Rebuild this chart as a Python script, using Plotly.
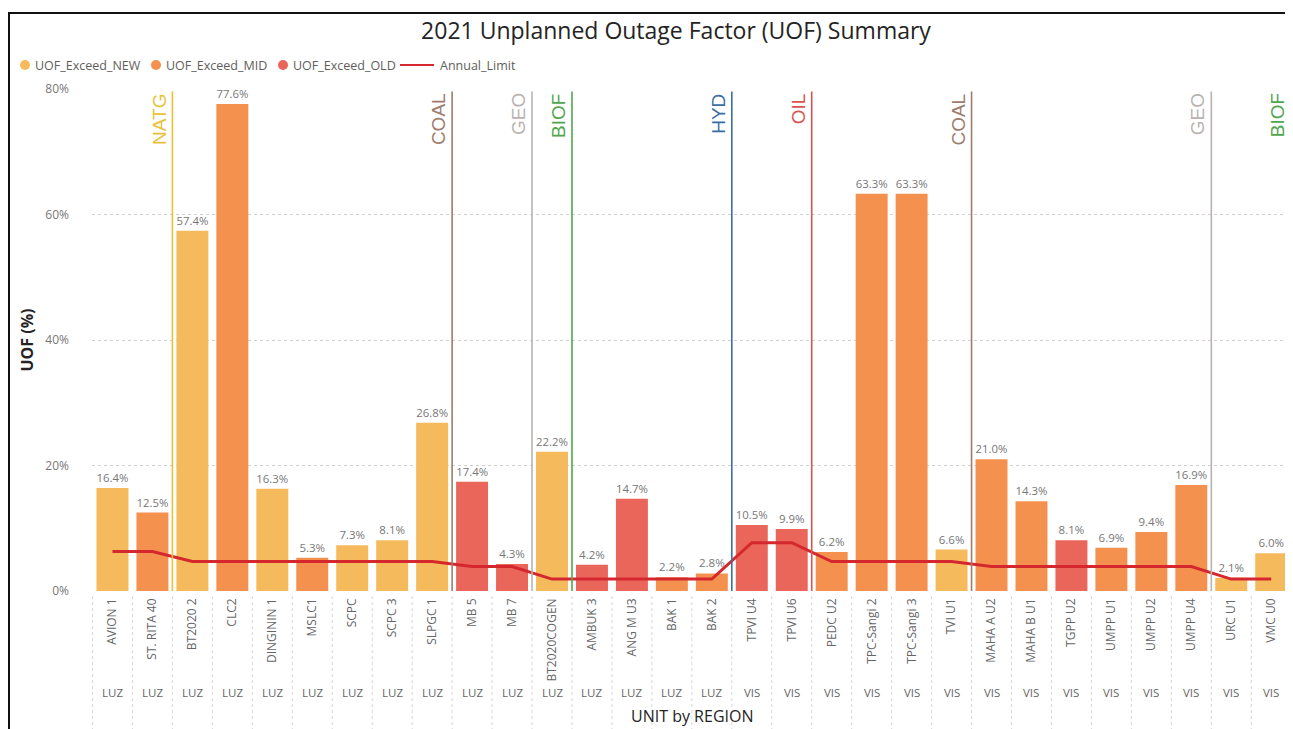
import plotly.graph_objects as go

units = ["AVION 1", "ST. RITA 40", "BT2020 2", "CLC2", "DINGININ 1", "MSLC1", "SCPC", "SCPC 3",
         "SLPGC 1", "MB 5", "MB 7", "BT2020COGEN", "AMBUK 3", "ANG M U3", "BAK 1", "BAK 2",
         "TPVI U4", "TPVI U6", "PEDC U2", "TPC-Sangi 2", "TPC-Sangi 3", "TVI U1", "MAHA A U2",
         "MAHA B U1", "TGPP U2", "UMPP U1", "UMPP U2", "UMPP U4", "URC U1", "VMC U0"]
regions = ["LUZ"] * 16 + ["VIS"] * 14
fuels = ["NATG", "NATG", "COAL", "COAL", "COAL", "COAL", "COAL", "COAL", "COAL", "GEO", "GEO",
         "BIOF", "HYD", "HYD", "HYD", "HYD", "OIL", "OIL", "COAL", "COAL", "COAL", "COAL",
         "GEO", "GEO", "GEO", "GEO", "GEO", "GEO", "BIOF", "BIOF"]
vintage = ["NEW", "MID", "NEW", "MID", "NEW", "MID", "NEW", "NEW", "NEW", "OLD", "OLD", "NEW",
           "OLD", "OLD", "MID", "MID", "OLD", "OLD", "MID", "MID", "MID", "NEW", "MID", "MID",
           "OLD", "MID", "MID", "MID", "NEW", "NEW"]
uof = [16.4, 12.5, 57.4, 77.6, 16.3, 5.3, 7.3, 8.1, 26.8, 17.4, 4.3, 22.2, 4.2, 14.7, 2.2, 2.8,
       10.5, 9.9, 6.2, 63.3, 63.3, 6.6, 21.0, 14.3, 8.1, 6.9, 9.4, 16.9, 2.1, 6.0]
annual_limit = [6.3, 6.3, 4.7, 4.7, 4.7, 4.7, 4.7, 4.7, 4.7, 3.9, 3.9, 1.9, 1.9, 1.9, 1.9, 1.9,
                7.7, 7.7, 4.7, 4.7, 4.7, 4.7, 3.9, 3.9, 3.9, 3.9, 3.9, 3.9, 1.9, 1.9]
y_ticks = [0, 20, 40, 60, 80]
series_keys = ["NEW", "MID", "OLD"]

series_colors = {"NEW": "#F5BA5B", "MID": "#F5914F", "OLD": "#EA655A"}
line_color = "#D5282E"
fuel_colors = {"NATG": "#E8C23A", "COAL": "#9E7B6A", "GEO": "#B8B3B0", "BIOF": "#4FA64C",
               "HYD": "#3B6EA5", "OIL": "#D9534F"}
FONT = "Open Sans"

# page-to-paper helpers (plot area: left 92, right 1292, top 89, bottom 591 in page px)
PL, PW, PB, PH = 92, 1200, 591, 502
def px(x):
    return (x - PL) / PW
def py(y):
    return (PB - y) / PH

fig = go.Figure()

for key in series_keys:
    vals = [v if s == key else None for v, s in zip(uof, vintage)]
    fig.add_trace(go.Bar(
        x=units, y=vals, name="UOF_Exceed_" + key, showlegend=False,
        marker=dict(color=series_colors[key], line=dict(width=0)),
        texttemplate="%{y:.1f}%", textposition="outside",
        textfont=dict(family=FONT, size=11.5, color="#777777"), cliponaxis=False,
    ))

fig.add_trace(go.Scatter(
    x=units, y=annual_limit, mode="lines", name="Annual_Limit", showlegend=False,
    line=dict(color=line_color, width=3),
))

shapes = []
annotations = []
# fuel group boundaries
for i in range(len(units)):
    if i == len(units) - 1 or fuels[i + 1] != fuels[i]:
        col = fuel_colors[fuels[i]]
        shapes.append(dict(type="line", xref="x", yref="paper", x0=i + 0.5, x1=i + 0.5,
                           y0=0, y1=0.995, line=dict(color=col, width=1.6), layer="above"))
        annotations.append(dict(xref="x", yref="paper", x=i + 0.5, y=0.995, text=fuels[i],
                                textangle=-90, showarrow=False, xanchor="right", yanchor="top",
                                xshift=-1, font=dict(family="Liberation Sans", size=19, color=col)))
# dotted separators in category label area
for i in range(len(units) + 1):
    shapes.append(dict(type="line", xref="x", yref="paper", x0=i - 0.5, x1=i - 0.5,
                       y0=-0.01, y1=-0.3, line=dict(color="#D6D6D6", width=1, dash="dot")))
# region labels
for u, r in zip(units, regions):
    annotations.append(dict(xref="x", yref="paper", x=u, y=py(692), text=r, showarrow=False,
                            xanchor="center", yanchor="middle",
                            font=dict(family=FONT, size=11.5, color="#666666")))
annotations.append(dict(xref="paper", yref="paper", x=0.5, y=py(716), text="UNIT by REGION",
                        showarrow=False, xanchor="center", yanchor="middle",
                        font=dict(family=FONT, size=16, color="#252423")))

# legend (drawn manually, compact like the reference)
legend_items = [("UOF_Exceed_" + k, series_colors[k], "dot") for k in series_keys]
legend_items.append(("Annual_Limit", line_color, "line"))
legend_pos = [(25, 33), (156, 164), (283, 291), (417, 438)]
LY = 65
for (name, col, kind), (mx, tx) in zip(legend_items, legend_pos):
    if kind == "dot":
        shapes.append(dict(type="circle", xref="paper", yref="paper", xsizemode="pixel",
                           ysizemode="pixel", xanchor=px(mx), yanchor=py(LY),
                           x0=-5, x1=5, y0=-5, y1=5, fillcolor=col, line=dict(width=0)))
    else:
        shapes.append(dict(type="line", xref="paper", yref="paper", x0=px(mx - 17),
                           x1=px(mx + 17), y0=py(LY), y1=py(LY), line=dict(color=col, width=2)))
    annotations.append(dict(xref="paper", yref="paper", x=px(tx), y=py(LY), text=name,
                            showarrow=False, xanchor="left", yanchor="middle",
                            font=dict(family=FONT, size=12.5, color="#605E5C")))

# frame
shapes.append(dict(type="rect", xref="paper", yref="paper", x0=px(9), x1=px(1340), y0=py(800),
                   y1=py(13), line=dict(color="#111111", width=2)))

fig.update_layout(
    width=1285, height=721,
    margin=dict(l=84, r=1, t=81, b=138),
    paper_bgcolor="white", plot_bgcolor="white",
    barmode="relative", bargap=0.2, showlegend=False,
    title=dict(text="2021 Unplanned Outage Factor (UOF) Summary", x=668 / 1285, xanchor="center",
               y=1 - 23 / 721, yanchor="middle", font=dict(family=FONT, size=23, color="#252423")),
    shapes=shapes, annotations=annotations,
    xaxis=dict(type="category", categoryorder="array", categoryarray=units, tickangle=-90,
               showgrid=False, showline=False, zeroline=False, ticks="",
               tickfont=dict(family=FONT, size=12, color="#666666"), ticklabelstandoff=4),
    yaxis=dict(range=[0, 80], tickvals=y_ticks, ticktext=[f"{v}%" for v in y_ticks],
               showgrid=True, gridcolor="#D0D0D0", griddash="dot", gridwidth=1,
               zeroline=False, showline=False, ticks="", ticklabelstandoff=22,
               tickfont=dict(family=FONT, size=12, color="#777777"),
               title=dict(text="<b>UOF (%)</b>", standoff=7,
                          font=dict(family=FONT, size=16, color="#252423"))),
)

fig.write_html("out.html")
